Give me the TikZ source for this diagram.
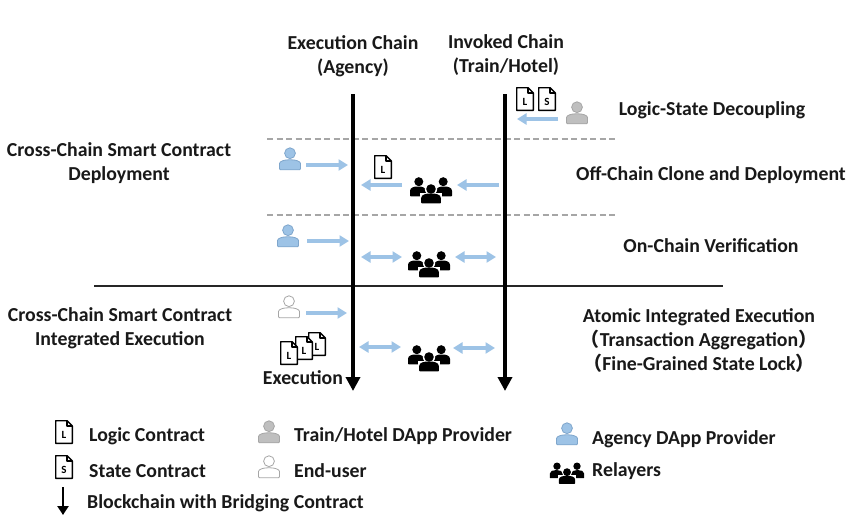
\documentclass[tikz,border=0pt]{standalone}
\usepackage{fontspec}
\setmainfont{Carlito}
\newfontfamily\cjk{Noto Sans CJK SC}
\usetikzlibrary{arrows.meta}
\definecolor{flowblue}{HTML}{9DC3E6}
\definecolor{agencyline}{HTML}{7FA6CC}
\definecolor{provgray}{HTML}{BFBFBF}
\definecolor{provline}{HTML}{A6A6A6}
\newcommand{\personshape}[2]{%
  \draw[draw=#2,fill=#1,line width=.8pt] (0,-5.8) circle (5.4);
  \draw[draw=#2,fill=#1,line width=.8pt,rounded corners=1pt] (-10.5,10.8) -- (-10.5,5.5) .. controls (-10.5,2) and (-5,.8) .. (0,.8) .. controls (5,.8) and (10.5,2) .. (10.5,5.5) -- (10.5,10.8) -- cycle;}
\newcommand{\relbody}[3]{%
  \fill[black,rounded corners=.6pt] (#1-#2,#3+9.8) -- (#1-#2,#3+5) .. controls (#1-#2,#3+1) and (#1-#2*.5,#3) .. (#1,#3) .. controls (#1+#2*.5,#3) and (#1+#2,#3+1) .. (#1+#2,#3+5) -- (#1+#2,#3+9.8) -- cycle;}
\newcommand{\lp}{{\cjk\fontsize{19}{24}\selectfont （}}
\newcommand{\rp}{{\cjk\fontsize{19}{24}\selectfont ）}}
\tikzset{
  x=1pt,y=-1pt,
  lbl/.style={font=\fontsize{19.8}{24}\selectfont\bfseries,align=center,inner sep=0pt,text=black!90},
  lgd/.style={lbl,anchor=west},
  flow/.style={draw=flowblue,line width=3.2pt,-{Triangle[length=9.5pt,width=11pt]}},
  flowboth/.style={draw=flowblue,line width=3.2pt,{Triangle[length=9.5pt,width=11pt]}-{Triangle[length=9.5pt,width=11pt]}},
  chainline/.style={draw=black,line width=4.4pt,-{Triangle[length=14pt,width=14pt,inset=0pt]},shorten >=0pt},
  sep/.style={draw=black!35,line width=1.3pt,dash pattern=on 6pt off 3.5pt},
  rule/.style={draw=black!85,line width=1.3pt},
  pics/agency/.style={code={\personshape{flowblue}{agencyline}}},
  pics/provider/.style={code={\personshape{provgray}{provline}}},
  pics/enduser/.style={code={\personshape{white}{provline}}},
  pics/relayers/.style={code={
    \fill (-12.2,-8.3) circle (4.5);
    \fill (12.2,-8.3) circle (4.5);
    \relbody{-13}{8}{-3.5}
    \relbody{13}{8}{-3.5}
    \fill[white] (0,-1) circle (6.2);
    \fill[white] (-11,13.5) rectangle (11,3);
    \fill (0,-1) circle (4.8);
    \relbody{0}{9.8}{3.5}
  }},
  pics/doc/.style={code={
    \draw[fill=white,line width=1.4pt,line join=round] (-8.3,-11.3) -- (3,-11.3) -- (8.3,-6) -- (8.3,11.3) -- (-8.3,11.3) -- cycle;
    \draw[line width=1.1pt,line join=round] (3,-11.3) -- (3,-6) -- (8.3,-6);
    \node[inner sep=0pt,font=\fontsize{11}{10}\selectfont\bfseries] (letter) at (0,3) {#1};
  }}
}
\begin{document}
\begin{tikzpicture}
\useasboundingbox[fill=white] (0,0) rectangle (854,530);

% separators
\coordinate (d1a) at (267,139); \coordinate (d1b) at (618,139);
\coordinate (d2a) at (267,215); \coordinate (d2b) at (618,215);
\coordinate (ra) at (94,286);  \coordinate (rb) at (723,286);
\draw[sep] (d1a) -- (d1b);
\draw[sep] (d2a) -- (d2b);
\draw[rule] (ra) -- (rb);

% chains
\coordinate (exectop) at (353,94); \coordinate (execend) at (353,391);
\coordinate (invtop) at (505,94);  \coordinate (invend) at (505,391);
\draw[chainline] (exectop) -- (execend);
\draw[chainline] (invtop) -- (invend);

% headers
\node[lbl] (hexec) at (353,56) {Execution Chain\\(Agency)};
\node[lbl] (hinv) at (506,55) {Invoked Chain\\(Train/Hotel)};

% right labels
\node[lbl] (tdecouple) at (712,110) {Logic-State Decoupling};
\node[lbl] (tclone) at (711,175) {Off-Chain Clone and Deployment};
\node[lbl] (tverify) at (711,246) {On-Chain Verification};
\node[lbl] (tatomic) at (699,341) {Atomic Integrated Execution\\\lp Transaction Aggregation\rp\\\lp Fine-Grained State Lock\rp};

% left labels
\node[lbl] (tdeploy) at (119,163) {Cross-Chain Smart Contract\\Deployment};
\node[lbl] (tinteg) at (120,328) {Cross-Chain Smart Contract\\Integrated Execution};
\node[lbl] (texec) at (303,378) {Execution};

% icons
\pic (dl1) at (525,99) {doc=L};
\pic (ds1) at (547,99) {doc=S};
\pic (pgray) at (577,113) {provider};
\pic (pblue1) at (290,159) {agency};
\pic (dl2) at (383,167) {doc=L};
\pic (rel1) at (431,190) {relayers};
\pic (pblue2) at (288,236) {agency};
\pic (rel2) at (429,264) {relayers};
\pic (puser) at (289,307) {enduser};
\pic (ds3) at (317,344) {doc=L};
\pic (ds2) at (304,348) {doc=L};
\pic (ds0) at (289,353) {doc=L};
\pic (rel3) at (429,358) {relayers};

% flows
\coordinate (f1a) at (558,119); \coordinate (f1b) at (517,119);
\coordinate (f2a) at (306,165); \coordinate (f2b) at (348,165);
\coordinate (f3a) at (402,185); \coordinate (f3b) at (361,185);
\coordinate (f4a) at (499,185); \coordinate (f4b) at (457,185);
\coordinate (f5a) at (307,241); \coordinate (f5b) at (349,241);
\coordinate (f6a) at (361,257); \coordinate (f6b) at (402,257);
\coordinate (f7a) at (455,257); \coordinate (f7b) at (496,257);
\coordinate (f8a) at (306,313); \coordinate (f8b) at (347,313);
\coordinate (f9a) at (359,347); \coordinate (f9b) at (401,347);
\coordinate (f10a) at (453,348); \coordinate (f10b) at (495,348);
\draw[flow] (f1a) -- (f1b);
\draw[flow] (f2a) -- (f2b);
\draw[flow] (f3a) -- (f3b);
\draw[flow] (f4a) -- (f4b);
\draw[flow] (f5a) -- (f5b);
\draw[flowboth] (f6a) -- (f6b);
\draw[flowboth] (f7a) -- (f7b);
\draw[flow] (f8a) -- (f8b);
\draw[flowboth] (f9a) -- (f9b);
\draw[flowboth] (f10a) -- (f10b);

% legend
\pic (ldl) at (64,432) {doc=L};
\node[lgd] (llogic) at (89,436) {Logic Contract};
\pic (lds) at (64,467) {doc=S};
\node[lgd] (lstate) at (89,471) {State Contract};
\coordinate (lba) at (63,487); \coordinate (lbb) at (63,515);
\draw[draw=black,line width=2.4pt,-{Triangle[length=9pt,width=11pt,inset=0pt]}] (lba) -- (lbb);
\node[lgd] (lblock) at (87,503) {Blockchain with Bridging Contract};
\pic (lprov) at (269,432) {provider};
\node[lgd] (ltrain) at (294,436) {Train/Hotel DApp Provider};
\pic (luser) at (269,467) {enduser};
\node[lgd] (lend) at (294,471) {End-user};
\pic (lagency) at (567,434) {agency};
\node[lgd] (lag) at (592,439) {Agency DApp Provider};
\pic[scale=.82] (lrel) at (567,473) {relayers};
\node[lgd] (lrelay) at (592,471) {Relayers};
\end{tikzpicture}
\end{document}
